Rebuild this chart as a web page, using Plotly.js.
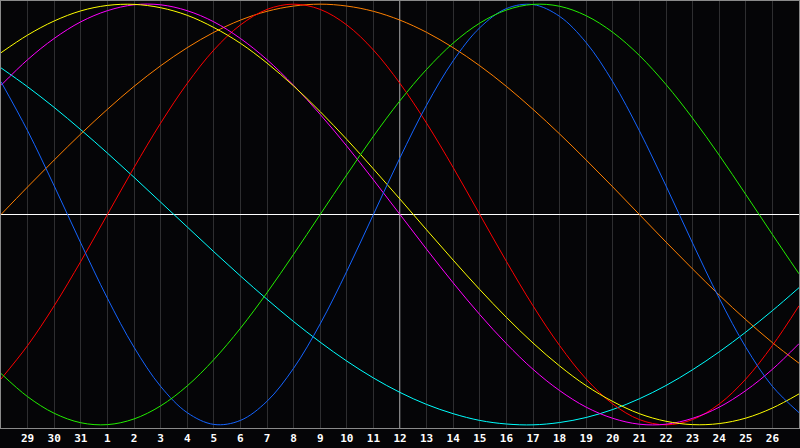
<!DOCTYPE html>
<html>
<head>
<meta charset="utf-8">
<script src="https://cdn.plot.ly/plotly-3.0.1.min.js"></script>
<style>
  html, body { margin:0; padding:0; background:#050507; }
  #grafRytmus { width:800px; height:448px; }
</style>
</head>
<body>
<div id="grafRytmus"></div>
<script>
// days shown (one per grid line), today = 12
var dayLabels = ['29','30','31','1','2','3','4','5','6','7','8','9','10','11','12',
                 '13','14','15','16','17','18','19','20','21','22','23','24','25','26'];
var dayPos = [1,2,3,4,5,6,7,8,9,10,11,12,13,14,15,16,17,18,19,20,21,22,23,24,25,26,27,28,29];
var days = [0,1,2,3,4,5,6,7,8,9,10,11,12,13,14,15,16,17,18,19,20,21,22,23,24,25,26,27,28,29,30];
var today = 15;

// values, -100..100
var physical = [63.1,39.8,13.6,-13.6,-39.8,-63.1,-81.7,-94.2,-99.8,-97.9,-88.8,-73.1,-52.0,-27.0,0,27.0,52.0,73.1,88.8,97.9,99.8,94.2,81.7,63.1,39.8,13.6,-13.6,-39.8,-63.1,-81.7,-94.2];
var emotional = [-78.2,-62.3,-43.4,-22.3,0,22.3,43.4,62.3,78.2,90.1,97.5,100,97.5,90.1,78.2,62.3,43.4,22.3,0,-22.3,-43.4,-62.3,-78.2,-90.1,-97.5,-100,-97.5,-90.1,-78.2,-62.3,-43.4];
var intellectual = [-75.6,-86.6,-94.5,-99.0,-99.9,-97.2,-91.0,-81.5,-69.0,-54.1,-37.2,-18.9,0,18.9,37.2,54.1,69.0,81.5,91.0,97.2,99.9,99.0,94.5,86.6,75.6,61.8,45.8,28.2,9.5,-9.5,-28.2];
var intuitive = [61.4,73.6,83.7,91.6,96.9,99.7,99.7,96.9,91.6,83.7,73.6,61.4,47.6,32.5,16.5,0,-16.5,-32.5,-47.6,-61.4,-73.6,-83.7,-91.6,-96.9,-99.7,-99.7,-96.9,-91.6,-83.7,-73.6,-61.4];
var aesthetic = [76.9,85.3,92.0,96.8,99.4,99.9,98.3,94.7,88.9,81.4,72.0,61.1,48.9,35.7,21.7,7.3,-7.3,-21.7,-35.7,-48.9,-61.1,-72.0,-81.4,-88.9,-94.7,-98.3,-99.9,-99.4,-96.8,-92.0,-85.3];
var awareness = [0,13.1,25.9,38.3,50,60.9,70.7,79.3,86.6,92.4,96.6,99.1,100,99.1,96.6,92.4,86.6,79.3,70.7,60.9,50,38.3,25.9,13.1,0,-13.1,-25.9,-38.3,-50,-60.9,-70.7];
var spiritual = [69.7,60.7,50.9,40.3,29.2,17.7,5.9,-5.9,-17.7,-29.2,-40.3,-50.9,-60.7,-69.7,-77.7,-84.6,-90.3,-94.7,-97.9,-99.6,-100,-98.9,-96.5,-92.7,-87.6,-81.3,-73.8,-65.3,-55.9,-45.7,-34.8];

function krivka(y, farba, meno){
    return {x: days, y: y, mode:'lines', name: meno,
            line: {color: farba, width: 1, shape: 'spline'},
            hoverinfo: 'skip'};
}

var data = [
    krivka(spiritual, '#00ffff', 'spiritual'),
    krivka(awareness, '#ff8000', 'awareness'),
    krivka(emotional, '#ff0000', 'emotional'),
    krivka(intuitive, '#ff00ff', 'intuitive'),
    krivka(aesthetic, '#ffff00', 'aesthetic'),
    krivka(physical, '#1464ff', 'physical'),
    krivka(intellectual, '#22ee00', 'intellectual')
];

var layout = {
    width: 800, height: 448,
    margin: {l:1, r:1, t:1, b:20},
    paper_bgcolor: '#050507',
    plot_bgcolor: '#050507',
    showlegend: false,
    xaxis: {
        range: [0, 30], fixedrange: true,
        tickvals: dayPos, ticktext: dayLabels,
        showgrid: true, gridcolor: '#2e2e30', gridwidth: 1,
        zeroline: false, ticks: '', ticklen: 0,
        showline: true, mirror: true, linecolor: '#8a8a8a', linewidth: 1,
        tickfont: {family: 'DejaVu Sans Mono', size: 11, color: '#ffffff', weight: 'bold'}
    },
    yaxis: {
        range: [-101.5, 101.5], fixedrange: true,
        showgrid: false, showticklabels: false, ticks: '',
        zeroline: true, zerolinecolor: '#ffffff', zerolinewidth: 1,
        showline: true, mirror: true, linecolor: '#8a8a8a', linewidth: 1
    },
    shapes: [{type:'line', xref:'x', yref:'paper', x0: today, x1: today, y0: 0, y1: 1,
              line: {color:'#ffffff', width:1}, layer: 'below'}]
};

Plotly.newPlot('grafRytmus', data, layout, {staticPlot: true});
</script>
</body>
</html>
